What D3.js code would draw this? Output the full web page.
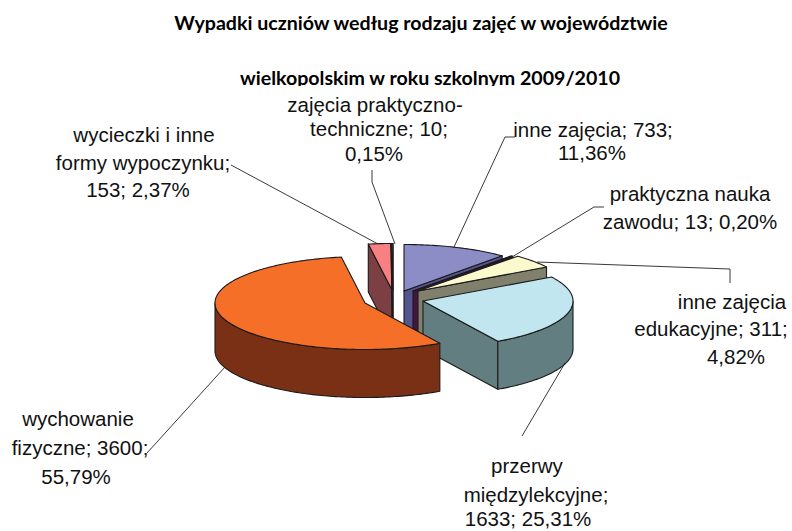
<!DOCTYPE html>
<html><head><meta charset="utf-8">
<script src="https://cdn.jsdelivr.net/npm/d3@7/dist/d3.min.js"></script>
<style>html,body{margin:0;padding:0;background:#fff}svg{display:block}</style>
</head><body><svg id="c" width="792" height="531"></svg>
<script>
const categories = ["inne zajęcia","praktyczna nauka zawodu","inne zajęcia edukacyjne","przerwy międzylekcyjne","wychowanie fizyczne","wycieczki i inne formy wypoczynku","zajęcia praktyczno-techniczne"];
const values = [733,13,311,1633,3600,153,10];
const percents = ["11,36%","0,20%","4,82%","25,31%","55,79%","2,37%","0,15%"];
const topColors = ["#8c8cc6","#6a2468","#fbfacd","#c2e6f0","#f56f28","#f78082","#2a6db5"];
const sideColors = ["#54558c","#45153f","#80806c","#637e80","#7a3014","#7c4044","#1d4a80"];
const apexX = [404,413,418,423,365,392,393];
const apexY = [291,291,291,301,303,290,290];
const drawOrder = [0,1,2,3,5,6,4];
const rx = 150, ry = 46.5, depth = 48;

const titleLines = [
  {t:"Wypadki uczniów według rodzaju zajęć w województwie",x:421,y:30},
  {t:"wielkopolskim w roku szkolnym 2009/2010",x:430,y:85}
];
const labelLines = [
  ["zajęcia praktyczno-",375,112],["techniczne; 10;",379,136],["0,15%",374,161],
  ["wycieczki i inne",144,142],["formy wypoczynku;",143,170],["153; 2,37%",138,197],
  ["inne zajęcia; 733;",593,137],["11,36%",592,160],
  ["praktyczna nauka",690,201],["zawodu; 13; 0,20%",690,229],
  ["inne zajęcia",732,309],["edukacyjne; 311;",711,336],["4,82%",736,364],
  ["przerwy",527,473],["międzylekcyjne;",536,502],["1633; 25,31%",528,526],
  ["wychowanie",78,426],["fizyczne; 3600;",80,455],["55,79%",76,484]
];
const leaders = [
  [[231,165],[378,244]],
  [[372,170],[372,182],[395,244]],
  [[515,137],[505,137],[454,247]],
  [[604,207],[594,207],[512,257]],
  [[537,262],[730,269],[730,283]],
  [[565,363],[522,436]],
  [[225,367],[147,453]]
];

const svg = d3.select("#c");
const arcs = d3.pie().sort(null).startAngle(0).endAngle(2*Math.PI)(values);
const line = d3.line();
const sx = d3.scaleLinear().domain([-1,1]).range([-rx,rx]);
const sy = d3.scaleLinear().domain([-1,1]).range([ry,-ry]);
const pt = (i,a,dz=0)=>[apexX[i]+sx(Math.sin(a)), apexY[i]+sy(Math.cos(a))+dz];
const apex = (i,dz=0)=>[apexX[i],apexY[i]+dz];
const arcPts = (i,a0,a1,dz=0)=>{
  const n=Math.max(2,Math.ceil((a1-a0)/0.02)), out=[];
  for(let k=0;k<=n;k++) out.push(pt(i,a0+(a1-a0)*k/n,dz));
  return out;
};
const g = svg.append("g").attr("stroke","#1a1a1a").attr("stroke-width",1.1).attr("stroke-linejoin","round");
const face=(pts,fill)=>g.append("path").attr("d",line(pts)+"Z").attr("fill",fill);
drawOrder.forEach(i=>{
  const a0=arcs[i].startAngle,a1=arcs[i].endAngle,side=sideColors[i];
  if(Math.cos(a0-Math.PI/2)<0) face([apex(i),pt(i,a0),pt(i,a0,depth),apex(i,depth)],side);
  if(Math.cos(a1+Math.PI/2)<0) face([apex(i),pt(i,a1),pt(i,a1,depth),apex(i,depth)],side);
  const r0=Math.max(a0,Math.PI/2), r1=Math.min(a1,3*Math.PI/2);
  if(r1>r0) face([...arcPts(i,r0,r1),...arcPts(i,r0,r1,depth).reverse()],side);
  face([apex(i),...arcPts(i,a0,a1)],topColors[i]);
});
const ll=svg.append("g").attr("fill","none").attr("stroke","#222").attr("stroke-width",0.9);
leaders.forEach(p=>ll.append("path").attr("d",line(p)));

svg.append("clipPath").attr("id","tc").append("rect").attr("x",0).attr("y",0).attr("width",792).attr("height",86);
svg.append("g").attr("clip-path","url(#tc)").selectAll("text").data(titleLines).join("text")
  .attr("x",d=>d.x).attr("y",d=>d.y).attr("text-anchor","middle")
  .attr("font-family","Lato").attr("font-weight","700").attr("font-size",19.6).attr("fill","#000").text(d=>d.t);
svg.append("g").selectAll("text").data(labelLines).join("text")
  .attr("x",d=>d[1]).attr("y",d=>d[2]).attr("text-anchor","middle")
  .attr("font-family","Arial, 'Liberation Sans'").attr("font-size",20.5).attr("fill","#111").text(d=>d[0]);
</script></body></html>
